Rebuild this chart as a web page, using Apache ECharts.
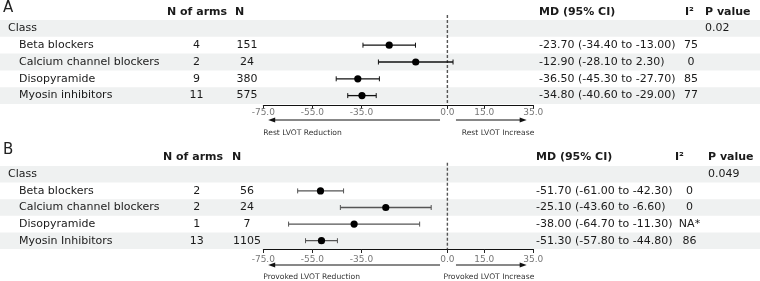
<!DOCTYPE html>
<html><head><meta charset="utf-8">
<script src="https://cdn.jsdelivr.net/npm/echarts@6/dist/echarts.min.js"></script>
<style>html,body{margin:0;padding:0;background:#fff}#c{width:760px;height:281px}</style>
</head><body><div id="c"></div><script>
// ---------- data ----------
const headers = ['N of arms', 'N', 'MD (95% CI)', 'I²', 'P value'];
const groupLabel = 'Class';
const ticks = [-75, -55, -35, 0, 15, 35];

const classesA = ['Beta blockers', 'Calcium channel blockers', 'Disopyramide', 'Myosin inhibitors'];
const armsA = [4, 2, 9, 11];
const nA = [151, 24, 380, 575];
const mdA = [-23.70, -12.90, -36.50, -34.80];
const loA = [-34.40, -28.10, -45.30, -40.60];
const hiA = [-13.00, 2.30, -27.70, -29.00];
const i2A = ['75', '0', '85', '77'];
const pA = '0.02';
const arrowLabelsA = ['Rest LVOT Reduction', 'Rest LVOT Increase'];

const classesB = ['Beta blockers', 'Calcium channel blockers', 'Disopyramide', 'Myosin Inhibitors'];
const armsB = [2, 2, 1, 13];
const nB = [56, 24, 7, 1105];
const mdB = [-51.70, -25.10, -38.00, -51.30];
const loB = [-61.00, -43.60, -64.70, -57.80];
const hiB = [-42.30, -6.60, -11.30, -44.80];
const i2B = ['0', '0', 'NA*', '86'];
const pB = '0.049';
const arrowLabelsB = ['Provoked LVOT Reduction', 'Provoked LVOT Increase'];

// ---------- layout ----------
const FONT = '"DejaVu Sans", sans-serif';
const layouts = [
  {letter: 'A', letterY: 8.5, c0: 28.4, p: 16.8, dashTop: 15, axisY: 105, headerY: 11.7,
   cols: {label: 8, sub: 19, arms: 196.5, n: 247, md: 539, i2: 691, p: 705},
   head: {arms: 167, n: 235, md: 539, i2: 685, p: 705},
   margin: 3, arrowDy: 15, arrowLabelDy: 28, errColor: '#111',
   classes: classesA, arms: armsA, n: nA, md: mdA, lo: loA, hi: hiA, i2: i2A, pv: pA, arrowLabels: arrowLabelsA},
  {letter: 'B', letterY: 151, c0: 174.3, p: 16.6, dashTop: 162.7, axisY: 249, headerY: 156.7,
   cols: {label: 8, sub: 19, arms: 196.7, n: 247, md: 536, i2: 689.5, p: 708},
   head: {arms: 163, n: 232, md: 536, i2: 675, p: 708},
   margin: 6, arrowDy: 16, arrowLabelDy: 27.7, errColor: '#555',
   classes: classesB, arms: armsB, n: nB, md: mdB, lo: loB, hi: hiB, i2: i2B, pv: pB, arrowLabels: arrowLabelsB}
];
const arrowSpan = {leftFrom: -3, leftTo: -73, rightFrom: 3.5, rightTo: 32.3};

const grids = [], xAxes = [], yAxes = [], series = [], graphic = [];
const fmt = v => v.toFixed(2);

layouts.forEach((L, k) => {
  const ymin = (L.dashTop - L.c0) / L.p;
  const ymax = (L.axisY - L.c0) / L.p;
  const hRow = (L.headerY - L.c0) / L.p;
  const gTable = grids.length, gForest = grids.length + 1;
  grids.push({left: 0, width: 760, top: L.dashTop, height: L.axisY - L.dashTop});
  grids.push({left: 263.3, width: 270, top: L.dashTop, height: L.axisY - L.dashTop});
  xAxes.push({gridIndex: gTable, type: 'value', min: 0, max: 760, show: false});
  xAxes.push({gridIndex: gForest, type: 'value', min: -75, max: 35,
    axisLine: {show: true, onZero: false, lineStyle: {color: '#111', width: 1}},
    axisTick: {show: true, length: 4, customValues: ticks, lineStyle: {color: '#222'}},
    axisLabel: {customValues: ticks, formatter: v => Number(v).toFixed(1), color: '#777',
      fontSize: 9, fontFamily: FONT, margin: L.margin},
    splitLine: {show: false}});
  yAxes.push({gridIndex: gTable, type: 'value', min: ymin, max: ymax, inverse: true, show: false});
  yAxes.push({gridIndex: gForest, type: 'value', min: ymin, max: ymax, inverse: true, show: false});

  // row bands (Class, 2nd, 4th item)
  series.push({type: 'custom', xAxisIndex: gTable, yAxisIndex: gTable, z: 0, silent: true,
    data: [[0, 0], [0, 2], [0, 4]],
    renderItem: (params, api) => {
      const r = api.value(1);
      const a = api.coord([0, r - 0.5]), b = api.coord([760, r + 0.5]);
      return {type: 'rect', shape: {x: a[0], y: a[1], width: b[0] - a[0], height: b[1] - a[1]},
        style: {fill: '#eff1f1'}};
    }});

  // table cells
  const cells = [];
  const hx = [L.head.arms, L.head.n, L.head.md, L.head.i2, L.head.p];
  headers.forEach((h, i) => cells.push({x: hx[i], row: hRow, t: h, align: 'left', bold: true}));
  cells.push({x: L.cols.label, row: 0, t: groupLabel, align: 'left'});
  cells.push({x: L.cols.p, row: 0, t: L.pv, align: 'left'});
  L.classes.forEach((c, i) => {
    const r = i + 1;
    cells.push({x: L.cols.sub, row: r, t: c, align: 'left'});
    cells.push({x: L.cols.arms, row: r, t: String(L.arms[i]), align: 'center'});
    cells.push({x: L.cols.n, row: r, t: String(L.n[i]), align: 'center'});
    cells.push({x: L.cols.md, row: r, t: fmt(L.md[i]) + ' (' + fmt(L.lo[i]) + ' to ' + fmt(L.hi[i]) + ')', align: 'left'});
    cells.push({x: L.cols.i2, row: r, t: L.i2[i], align: 'center'});
  });
  series.push({type: 'custom', xAxisIndex: gTable, yAxisIndex: gTable, z: 5, silent: true,
    data: cells.map(c => [c.x, c.row]),
    renderItem: (params, api) => {
      const c = cells[params.dataIndex];
      const pt = api.coord([api.value(0), api.value(1)]);
      return {type: 'text', x: pt[0], y: pt[1], style: {text: c.t, textAlign: c.align,
        textVerticalAlign: 'middle', font: (c.bold ? 'bold ' : '') + '11px ' + FONT, fill: '#1a1a1a'}};
    }});

  // zero dashed line
  series.push({type: 'custom', xAxisIndex: gForest, yAxisIndex: gForest, z: 3, silent: true,
    data: [[0, ymin]],
    renderItem: (params, api) => {
      const a = api.coord([0, ymin]), b = api.coord([0, ymax]);
      return {type: 'line', shape: {x1: a[0], y1: a[1], x2: b[0], y2: b[1]},
        style: {stroke: '#555', lineWidth: 1.4, lineDash: [3, 2]}};
    }});

  // forest marks
  series.push({type: 'custom', xAxisIndex: gForest, yAxisIndex: gForest, z: 6, silent: true,
    data: L.md.map((m, i) => [m, i + 1, L.lo[i], L.hi[i]]),
    renderItem: (params, api) => {
      const r = api.value(1);
      const c = api.coord([api.value(0), r]);
      const a = api.coord([api.value(2), r]);
      const b = api.coord([api.value(3), r]);
      const col = L.errColor;
      return {type: 'group', children: [
        {type: 'line', shape: {x1: a[0], y1: a[1], x2: b[0], y2: b[1]}, style: {stroke: col, lineWidth: 1.3}},
        {type: 'line', shape: {x1: a[0], y1: a[1] - 2.5, x2: a[0], y2: a[1] + 2.5}, style: {stroke: col, lineWidth: 1}},
        {type: 'line', shape: {x1: b[0], y1: b[1] - 2.5, x2: b[0], y2: b[1] + 2.5}, style: {stroke: col, lineWidth: 1}},
        {type: 'circle', shape: {cx: c[0], cy: c[1], r: 3.6}, style: {fill: '#000'}}
      ]};
    }});

  // direction arrows
  series.push({type: 'custom', xAxisIndex: gForest, yAxisIndex: gForest, z: 4, silent: true,
    data: [[arrowSpan.leftFrom, arrowSpan.leftTo, 0], [arrowSpan.rightFrom, arrowSpan.rightTo, 1]],
    renderItem: (params, api) => {
      const y = L.axisY + L.arrowDy;
      const x1 = api.coord([api.value(0), ymax])[0];
      const x2 = api.coord([api.value(1), ymax])[0];
      const dir = x2 > x1 ? 1 : -1;
      const side = api.value(2);
      const tx = side === 0 ? api.coord([-75, ymax])[0] : api.coord([35, ymax])[0] + 1;
      return {type: 'group', children: [
        {type: 'line', shape: {x1: x1, y1: y, x2: x2 - dir * 5, y2: y}, style: {stroke: '#111', lineWidth: 1}},
        {type: 'polygon', shape: {points: [[x2, y], [x2 - dir * 7, y - 2.5], [x2 - dir * 7, y + 2.5]]}, style: {fill: '#111'}},
        {type: 'text', x: tx, y: L.axisY + L.arrowLabelDy, style: {text: L.arrowLabels[side],
          textAlign: side === 0 ? 'left' : 'right', textVerticalAlign: 'middle',
          font: '7.6px ' + FONT, fill: '#333'}}
      ]};
    }});

  graphic.push({type: 'text', left: 3, top: L.letterY - 8, style: {text: L.letter, font: '15px ' + FONT, fill: '#222'}});
});

const chart = echarts.init(document.getElementById('c'), null, {renderer: 'canvas'});
chart.setOption({animation: false, backgroundColor: '#fff', grid: grids, xAxis: xAxes, yAxis: yAxes, series: series, graphic: graphic});
</script></body></html>
